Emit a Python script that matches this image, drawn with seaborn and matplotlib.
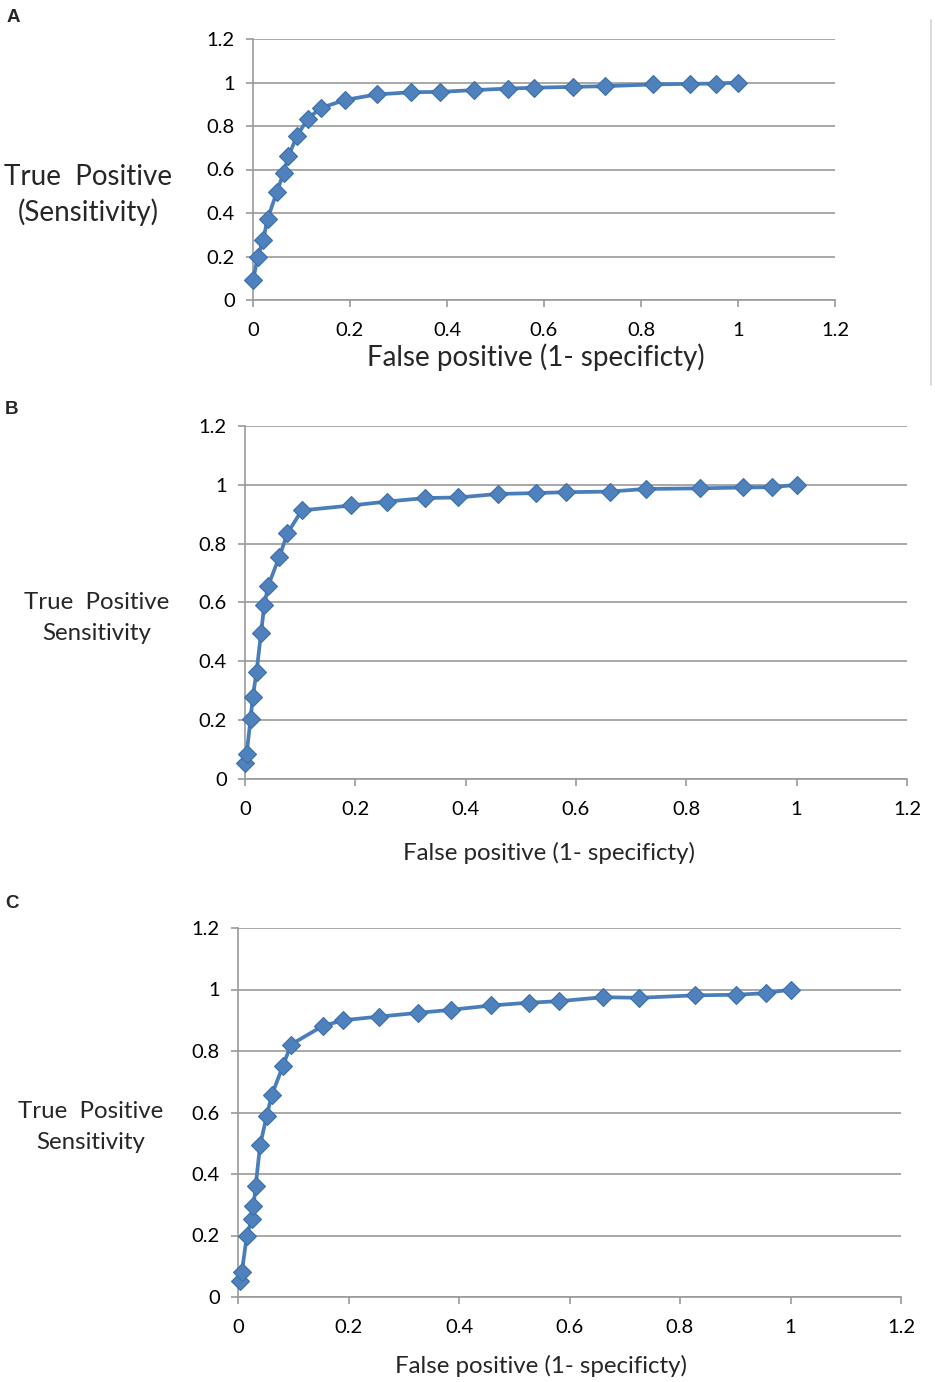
import numpy as np
import matplotlib
matplotlib.use('Agg')
import matplotlib.pyplot as plt
import matplotlib.ticker as mticker
from matplotlib.lines import Line2D
import seaborn as sns

# panel A
a_fpr = [0.0, 0.01, 0.021, 0.03, 0.049, 0.063, 0.073, 0.09, 0.113, 0.14, 0.19, 0.255,
         0.325, 0.386, 0.456, 0.525, 0.579, 0.66, 0.726, 0.824, 0.901, 0.955, 1.0]
a_tpr = [0.09, 0.20, 0.276, 0.372, 0.496, 0.584, 0.66, 0.752, 0.834, 0.883, 0.92, 0.945,
         0.955, 0.957, 0.965, 0.972, 0.976, 0.98, 0.983, 0.991, 0.994, 0.995, 1.0]

# panel B
b_fpr = [0.0, 0.003, 0.01, 0.014, 0.021, 0.029, 0.035, 0.042, 0.062, 0.077, 0.103, 0.193,
         0.257, 0.326, 0.386, 0.459, 0.527, 0.581, 0.661, 0.726, 0.824, 0.903, 0.956, 1.0]
b_tpr = [0.053, 0.085, 0.204, 0.278, 0.365, 0.495, 0.592, 0.657, 0.754, 0.836, 0.913, 0.93,
         0.943, 0.955, 0.957, 0.969, 0.972, 0.975, 0.977, 0.986, 0.988, 0.991, 0.992, 1.0]

# panel C
c_fpr = [0.004, 0.007, 0.016, 0.025, 0.028, 0.032, 0.04, 0.052, 0.061, 0.081, 0.096, 0.153,
         0.19, 0.256, 0.326, 0.386, 0.458, 0.526, 0.581, 0.661, 0.726, 0.827, 0.902, 0.955, 1.0]
c_tpr = [0.053, 0.082, 0.199, 0.255, 0.295, 0.361, 0.494, 0.589, 0.656, 0.75, 0.821, 0.881,
         0.90, 0.912, 0.924, 0.934, 0.948, 0.957, 0.962, 0.975, 0.973, 0.981, 0.983, 0.988, 1.0]

ticks = [0, 0.2, 0.4, 0.6, 0.8, 1.0, 1.2]
xlabel = 'False positive (1- specificty)'

sns.set_style('white')
plt.rcParams['font.family'] = ['Lato', 'DejaVu Sans']

W, H = 935, 1382
fig = plt.figure(figsize=(W / 100, H / 100), dpi=100)

# letter, data, (left, top, right, bottom) px, ylabel, font sizes, linespacing, label coords
panels = [
    ('A', a_fpr, a_tpr, (253, 39, 835, 300), 'True  Positive\n(Sensitivity)', 20, 20, 1.36,
     (-0.2835, 0.402), (0.486, -0.218), (13, 17)),
    ('B', b_fpr, b_tpr, (245, 426, 907, 779), 'True  Positive\nSensitivity', 17.3, 17.3, 1.58,
     (-0.2236, 0.456), (0.459, -0.21), (12, 409)),
    ('C', c_fpr, c_tpr, (238, 928, 901, 1297), 'True  Positive\nSensitivity', 17.3, 17.3, 1.55,
     (-0.2217, 0.461), (0.457, -0.187), (12, 903)),
]

grey = '#9a9a9a'
for letter, fx, ty, (l, t, r, b), ylab, yfs, xfs, lsp, ypos, xpos, lpos in panels:
    ax = fig.add_axes([l / W, 1 - b / H, (r - l) / W, (b - t) / H])
    sns.lineplot(x=fx, y=ty, ax=ax, sort=False, estimator=None, color='#4a7ebb',
                 linewidth=2.7, marker='D', markersize=9, markerfacecolor='#4f81bd',
                 markeredgecolor='#3c6fa8', markeredgewidth=0.8, clip_on=False, zorder=5)
    ax.set_xlim(0, 1.2)
    ax.set_ylim(0, 1.2)
    ax.set_xticks(ticks)
    ax.set_yticks(ticks)
    ax.xaxis.set_major_formatter(mticker.FormatStrFormatter('%g'))
    ax.yaxis.set_major_formatter(mticker.FormatStrFormatter('%g'))
    ax.grid(axis='y', color=grey, linewidth=1.2)
    ax.grid(axis='x', visible=False)
    ax.set_axisbelow(True)
    for s in ['top', 'right']:
        ax.spines[s].set_visible(False)
    for s in ['left', 'bottom']:
        ax.spines[s].set_color(grey)
        ax.spines[s].set_linewidth(1.2)
    ax.tick_params(axis='both', which='major', direction='out', length=5, width=1.2,
                   color=grey, labelsize=14.5, labelcolor='black', pad=8,
                   left=True, bottom=True)
    ax.tick_params(axis='x', pad=10.5)
    ax.set_ylabel(ylab, rotation=0, ha='center', va='center', fontsize=yfs,
                  linespacing=lsp)
    ax.yaxis.set_label_coords(*ypos)
    ax.set_xlabel(xlabel, fontsize=xfs, va='center')
    ax.xaxis.set_label_coords(*xpos)
    fig.text(lpos[0] / W, 1 - lpos[1] / H, letter, fontsize=13.5, fontweight='bold',
             family='Liberation Sans', ha='center', va='center')

# thin border fragment at the right of panel A
fig.add_artist(Line2D([931 / W, 931 / W], [1 - 20 / H, 1 - 385 / H],
                      color='#d4d4d4', linewidth=1.2, transform=fig.transFigure))

fig.savefig('out.png', dpi=100, facecolor='white')
